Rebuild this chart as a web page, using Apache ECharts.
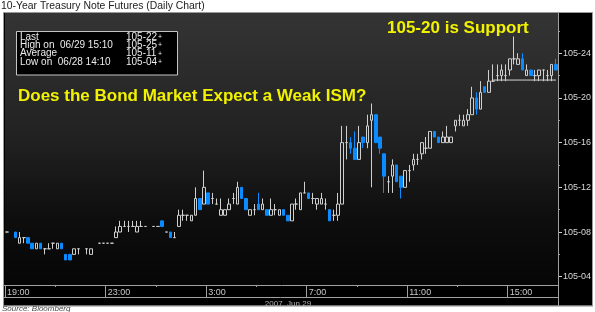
<!DOCTYPE html>
<html><head><meta charset="utf-8">
<script src="https://cdn.jsdelivr.net/npm/echarts@6/dist/echarts.min.js"></script>
<style>html,body{margin:0;padding:0;background:#fff}#c{width:595px;height:312px}</style>
</head><body><div id="c"></div>
<script>
// Prices in 32nds above 105 (e.g. 22.5 = 105-22+); null = no bar in that 10-minute slot
const opens  = [8,null,8,7,7.5,7.5,7,6.5,7,6.5,6.5,7,6.5,7,6,6,6,6.5,null,6.5,6,null,7,7,7,7,7.5,8,8.5,8.5,8.5,8,8.5,8.5,null,8.5,8.5,9,8,8,7.5,8.5,9.5,9.5,9,9.5,11,10.5,11.5,11,10.5,9.5,9.5,10,11,10.5,12,11,9.5,10,10.5,10,10,9.5,10,9.5,10,9.5,9,10.5,10,11.5,11.5,11,10.5,10.5,10.5,10,9.5,9.5,10.5,16,16,15.5,14.5,16.5,16,18,18.5,16.5,15,12.5,13,14,13,12,13.5,14,14.5,15,15.5,15.5,17,16.5,16,16,16,17.5,18,17.5,18,18.5,20,19,21,20.5,21.5,22,22,22,22.5,23.5,23,23.5,22,22.5,22,22,22.5,22,22,23];
const closes = [8,null,7.5,7.5,7.5,7,6.5,7,6.5,6.5,6.5,7,7,6.5,5.5,5.5,6.5,6.5,null,6.5,6.5,null,7,7,7,7,8,8.5,8.5,8.5,8.5,8.5,8.5,8.5,null,8.5,8.5,8.5,8,7.5,7.5,9.5,9.5,9.5,9.5,11,10,12,10.5,11,10.5,10,10,10.5,11,12,11,10,10,10,10,10.5,9.5,10,10,10,9.5,9,10.5,10.5,11.5,11.5,11,11,11,11,10.5,9,9.5,10.5,16,16,15.5,14.5,16,16,17.5,18.5,16,15.5,13,12.5,14,12.5,12,13.5,13.5,14.5,14.5,16,15.5,17,16.5,16,16.5,16.5,16.5,18,18,18,18.5,20,19,20.5,20.5,21.5,21.5,22,22.5,22,23.5,23.5,23.5,22.5,22.5,22,22,22.5,22.5,22,23,22.5];
const lows   = [8,null,7.5,7,7,7,6.5,6.5,6.5,6,6.5,6.5,6.5,6.5,5.5,5.5,6,6,null,6,6,null,7,7,7,7,7.5,8,8.5,8,8.5,8,8.5,8.5,null,8.5,8.5,8.5,8,7.5,7.5,8.5,9,9,9,9.5,10,10.5,10.5,10.5,10.5,9.5,9.5,10,10.5,10.5,11,10,9.5,9.5,10,10,9.5,9.5,9.5,9.5,9.5,9,9,10,10,11.5,11,10.5,10,10.5,10,9,9,9,10.5,14.5,15,14.5,14.5,15.5,15.5,12,16,15,11.5,11.5,11.5,12.5,11,12,12.5,13.5,14,14.5,15,15.5,16.5,16,16,16,16,17,17.5,17.5,17.5,18.5,18.5,19,20.5,20.5,21.5,21.5,21.5,21.5,22,23,23,22.5,22,22,21.5,21.5,21.5,21.5,21.5,22.5];
const highs  = [8,null,8,8,7.5,7.5,7,7,7,6.5,7,7,7,7,6,6,6.5,6.5,null,6.5,6.5,null,7,7,7,7,8.5,9,9,9,9,9,9,8.5,null,8.5,8.5,9,8,8,8,10,10,9.5,9.5,12,11,13.5,11.5,11.5,11,11,10,11,11.5,12.5,12,11,10,10.5,11.5,11,10,11,10.5,10,10,9.5,10.5,11,11.5,12.5,11.5,11.5,11,11.5,11,10,10,11.5,17.5,17.5,16.5,17,17.5,16.5,18.5,19.5,18.5,16.5,15,13,14.5,14,13,13.5,14,15,15,16,16.5,17,17,16.5,17,17.5,16.5,18,18.5,18.5,19,21,20.5,21.5,21,22.5,23,23,23,23,23.5,25.5,24,24,23,22.5,22.5,22.5,22.5,22.5,23,23.5];
const tickLabels = ['19:00','23:00','3:00','7:00','11:00','15:00'];
const barsPerLabel = 24;           // 10-minute bars per 4 hours
const slotCount = 132;
const yTicks = [4,8,12,16,20,24];
const yMinorTicks = [6,10,14,18,22,26];
const yMin = 3.26, yMax = 27.6;
const supportLevel = 21.6, supportFrom = 116;
const infoLabels = ['Last','High on  06/29 15:10','Average','Low on  06/28 14:10'];
const infoValues = ['105-22','105-25','105-11','105-04'];

const FONT = '"Liberation Sans", Arial, sans-serif';
const cats = [];
for (let i = 0; i < slotCount; i++) cats.push(String(i));
const candles = opens.map((o, i) => o == null ? ['-','-','-','-'] : [o, closes[i], lows[i], highs[i]]);
const support = cats.map((c, i) => i >= supportFrom ? supportLevel : null);
const fmt32 = v => '105-' + String(v).padStart(2, '0');

const chart = echarts.init(document.getElementById('c'), null, {renderer: 'canvas'});
const gridL = 5, gridT = 13, gridR = 558, gridB = 285;

const graphics = [
  {type:'rect', z:-100, shape:{x:3.5,y:12.5,width:589,height:293.5}, style:{fill:'#000', stroke:'#9a9a9a', lineWidth:1}},
  {type:'line', z:50, shape:{x1:3,y1:297.5,x2:558,y2:297.5}, style:{stroke:'#a0a0a0', lineWidth:1}},
  {type:'line', z:50, shape:{x1:3,y1:285.5,x2:5,y2:285.5}, style:{stroke:'#a0a0a0', lineWidth:1}},
  {type:'line', z:50, shape:{x1:558.5,y1:13,x2:558.5,y2:306}, style:{stroke:'#a0a0a0', lineWidth:1}},
  {type:'text', z:50, x:288, y:299.5, style:{text:'2007, Jun 29', font:'8px '+FONT, fill:'#b0b0b0', textAlign:'center', textVerticalAlign:'top'}},
  {type:'rect', z:60, shape:{x:0,y:306.5,width:595,height:6}, style:{fill:'#fff'}},
  {type:'line', z:61, shape:{x1:3,y1:306,x2:593,y2:306}, style:{stroke:'#9a9a9a', lineWidth:1}},
  {type:'text', z:70, x:2, y:304.5, style:{text:'Source: Bloomberg', font:'italic 8px '+FONT, fill:'#444', textVerticalAlign:'top'}},
  {type:'text', z:70, x:1, y:1.5, style:{text:'10-Year Treasury Note Futures (Daily Chart)', font:'10.4px '+FONT, fill:'#222', textVerticalAlign:'top'}},
  {type:'rect', z:80, shape:{x:16.5,y:31.5,width:161,height:43.5}, style:{fill:'#000', stroke:'#c4c4c4', lineWidth:1}},
  {type:'text', z:90, x:18, y:96.5, style:{text:'Does the Bond Market Expect a Weak ISM?', font:'bold 17px '+FONT, fill:'#f2f200', textVerticalAlign:'middle'}},
  {type:'text', z:90, x:387, y:28.5, style:{text:'105-20 is Support', font:'bold 17px '+FONT, fill:'#f2f200', textVerticalAlign:'middle'}}
];
infoLabels.forEach((t, k) => {
  graphics.push({type:'text', z:90, x:20, y:32 + k*8.3, style:{text:t, font:'10px '+FONT, fill:'#ececec', textVerticalAlign:'top'}});
  graphics.push({type:'text', z:90, x:126, y:32 + k*8.3, style:{text:infoValues[k], font:'10px '+FONT, fill:'#ececec', textVerticalAlign:'top'}});
  graphics.push({type:'text', z:90, x:158, y:33.5 + k*8.3, style:{text:'+', font:'7px '+FONT, fill:'#ececec', textVerticalAlign:'top'}});
});

chart.setOption({
  animation: false,
  grid: {left: gridL, top: gridT, width: gridR - gridL, height: gridB - gridT, show: true, borderWidth: 0,
    backgroundColor: new echarts.graphic.LinearGradient(0, 0, 0, 1, [
      {offset: 0, color: '#343434'}, {offset: 0.45, color: '#222222'},
      {offset: 0.75, color: '#0e0e0e'}, {offset: 1, color: '#060606'}])},
  xAxis: [{
    type: 'category', data: cats, boundaryGap: true, position: 'bottom',
    axisLine: {show: true, lineStyle: {color: '#a0a0a0', width: 1}},
    axisTick: {show: true, interval: (i) => i % barsPerLabel === 0, length: 12, lineStyle: {color: '#a0a0a0'}},
    axisLabel: {show: true, interval: (i) => i % barsPerLabel === 0, align: 'left', margin: 3,
      formatter: (v, i) => tickLabels[Math.round(i / barsPerLabel)] || '',
      color: '#c8c8c8', fontSize: 9, fontFamily: FONT},
    splitLine: {show: false}
  }, {
    type: 'category', data: cats, boundaryGap: true, position: 'bottom',
    axisLine: {show: false},
    axisTick: {show: true, interval: (i) => i % barsPerLabel === barsPerLabel / 2, length: 2, lineStyle: {color: '#a0a0a0'}},
    axisLabel: {show: false}, splitLine: {show: false}
  }],
  yAxis: [{
    type: 'value', position: 'right', min: yMin, max: yMax, scale: true,
    axisLine: {show: false},
    axisTick: {show: true, customValues: yTicks, length: 4, lineStyle: {color: '#cfcfcf'}},
    axisLabel: {show: true, customValues: yTicks, margin: 5, formatter: fmt32, color: '#d8d8d8', fontSize: 9, fontFamily: FONT},
    splitLine: {show: false}
  }, {
    type: 'value', position: 'right', min: yMin, max: yMax, scale: true,
    axisLine: {show: false},
    axisTick: {show: true, customValues: yMinorTicks, length: 2, lineStyle: {color: '#9a9a9a'}},
    axisLabel: {show: false}, splitLine: {show: false}
  }],
  series: [{
    type: 'candlestick', data: candles, xAxisIndex: 0, yAxisIndex: 0, barWidth: 3,
    itemStyle: {color: 'transparent', color0: '#0b8bff', borderColor: '#cfcfcf', borderColor0: '#0b8bff',
      borderColorDoji: '#cfcfcf', borderWidth: 1},
    emphasis: {disabled: true}
  }, {
    type: 'line', data: support, xAxisIndex: 0, yAxisIndex: 0, showSymbol: false, connectNulls: false,
    lineStyle: {color: '#d4d4d4', width: 1}, z: 1
  }],
  graphic: graphics
});
</script></body></html>
